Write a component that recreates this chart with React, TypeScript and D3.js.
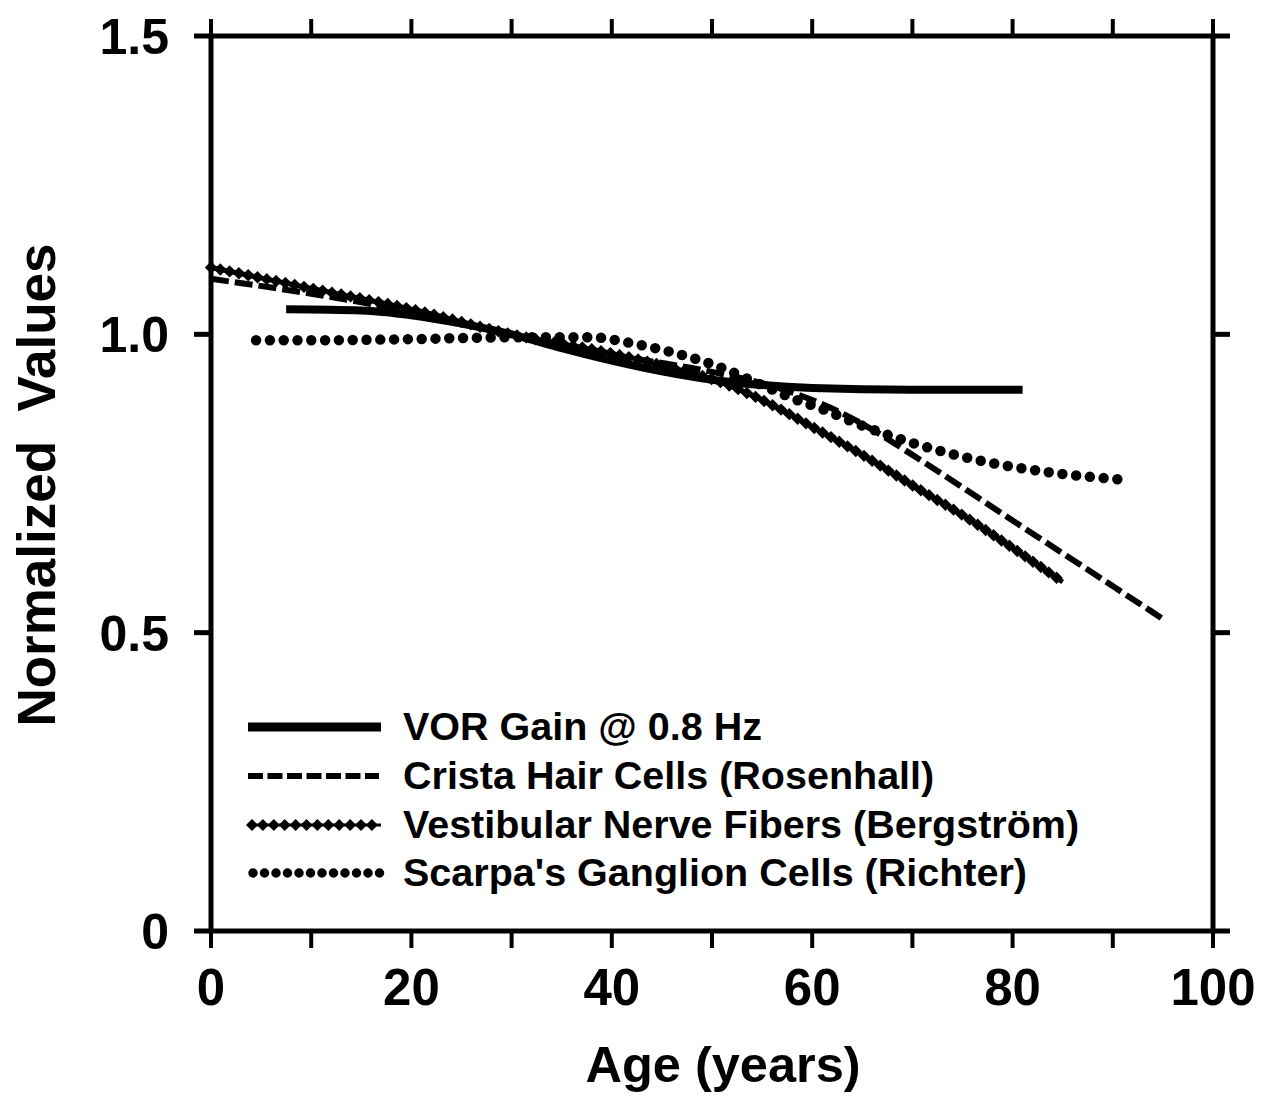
import React, { useEffect, useRef } from "react";
import * as d3 from "d3";

// Age (years) and normalized values for each curve
const vorAges = [7.5, 15, 20, 25, 30, 35, 40, 45, 50, 55, 60, 70, 81];
const vorValues = [1.042, 1.04, 1.032, 1.018, 1.0, 0.977, 0.956, 0.938, 0.924, 0.915, 0.91, 0.907, 0.907];

const cristaAges = [0, 10, 20, 30, 40, 50, 55, 60, 65, 70, 80, 90, 95];
const cristaValues = [1.093, 1.068, 1.038, 1.0, 0.966, 0.937, 0.918, 0.89, 0.85, 0.798, 0.688, 0.578, 0.523];

const nerveAges = [0, 10, 20, 30, 40, 45, 50, 55, 60, 65, 70, 75, 80, 85];
const nerveValues = [1.112, 1.077, 1.042, 1.0, 0.968, 0.948, 0.925, 0.89, 0.845, 0.798, 0.747, 0.697, 0.642, 0.585];

const scarpaAges = [4.5, 10, 20, 30, 38, 42, 46, 50, 55, 58, 61, 65, 70, 75, 80, 85, 90.5];
const scarpaValues = [0.99, 0.99, 0.992, 0.995, 0.995, 0.985, 0.97, 0.95, 0.915, 0.893, 0.875, 0.847, 0.818, 0.795, 0.778, 0.766, 0.757];

const xTicks = [0, 20, 40, 60, 80, 100];
const xMinorTicks = [0, 10, 20, 30, 40, 50, 60, 70, 80, 90, 100];
const yTicks = [0, 0.5, 1.0, 1.5];
const yTickLabels = ["0", "0.5", "1.0", "1.5"];

const legendLabels = [
  "VOR Gain @ 0.8 Hz",
  "Crista Hair Cells (Rosenhall)",
  "Vestibular Nerve Fibers (Bergström)",
  "Scarpa's Ganglion Cells (Richter)",
];

const FONT = "'Liberation Sans', Arial, Helvetica, sans-serif";

export default function App() {
  const ref = useRef<SVGSVGElement | null>(null);

  useEffect(() => {
    const svg = d3.select(ref.current);
    svg.selectAll("*").remove();

    const x = d3.scaleLinear().domain([0, 100]).range([211, 1213]);
    const y = d3.scaleLinear().domain([0, 1.5]).range([931, 36]);

    const g = svg.append("g");

    // frame
    g.append("rect")
      .attr("x", x(0))
      .attr("y", y(1.5))
      .attr("width", x(100) - x(0))
      .attr("height", y(0) - y(1.5))
      .attr("fill", "none")
      .attr("stroke", "#000")
      .attr("stroke-width", 5);

    const tickLen = 17;
    // x ticks (outward, top and bottom)
    xMinorTicks.forEach((t) => {
      g.append("line")
        .attr("x1", x(t)).attr("x2", x(t))
        .attr("y1", y(0)).attr("y2", y(0) + tickLen)
        .attr("stroke", "#000").attr("stroke-width", 4);
      g.append("line")
        .attr("x1", x(t)).attr("x2", x(t))
        .attr("y1", y(1.5)).attr("y2", y(1.5) - tickLen)
        .attr("stroke", "#000").attr("stroke-width", 4);
    });
    // y ticks (outward, left and right)
    yTicks.forEach((t) => {
      g.append("line")
        .attr("x1", x(0) - tickLen).attr("x2", x(0))
        .attr("y1", y(t)).attr("y2", y(t))
        .attr("stroke", "#000").attr("stroke-width", 5);
      g.append("line")
        .attr("x1", x(100)).attr("x2", x(100) + tickLen)
        .attr("y1", y(t)).attr("y2", y(t))
        .attr("stroke", "#000").attr("stroke-width", 5);
    });

    // tick labels
    g.selectAll(".xl")
      .data(xTicks)
      .enter()
      .append("text")
      .attr("x", (d) => x(d))
      .attr("y", 1005)
      .attr("text-anchor", "middle")
      .attr("font-family", FONT)
      .attr("font-weight", "bold")
      .attr("font-size", 51)
      .text((d) => String(d));

    g.selectAll(".yl")
      .data(yTicks)
      .enter()
      .append("text")
      .attr("x", 169)
      .attr("y", (d) => y(d) + 18)
      .attr("text-anchor", "end")
      .attr("font-family", FONT)
      .attr("font-weight", "bold")
      .attr("font-size", 50)
      .text((d, i) => yTickLabels[i]);

    // axis titles
    g.append("text")
      .attr("x", 723)
      .attr("y", 1082)
      .attr("text-anchor", "middle")
      .attr("font-family", FONT)
      .attr("font-weight", "bold")
      .attr("font-size", 50.5)
      .text("Age (years)");

    g.append("text")
      .attr("transform", "translate(55,485) rotate(-90)")
      .attr("text-anchor", "middle")
      .attr("font-family", FONT)
      .attr("font-weight", "bold")
      .attr("font-size", 53)
      .style("white-space", "pre")
      .text("Normalized  Values");

    const line = d3
      .line<[number, number]>()
      .x((d) => x(d[0]))
      .y((d) => y(d[1]))
      .curve(d3.curveMonotoneX);

    const zip = (a: number[], b: number[]) => a.map((v, i) => [v, b[i]] as [number, number]);

    // Scarpa's ganglion cells: round dots
    g.append("path")
      .attr("d", line(zip(scarpaAges, scarpaValues)))
      .attr("fill", "none")
      .attr("stroke", "#000")
      .attr("stroke-width", 10.5)
      .attr("stroke-linecap", "round")
      .attr("stroke-dasharray", "0 13.8");

    // Crista hair cells: dashed
    g.append("path")
      .attr("d", line(zip(cristaAges, cristaValues)))
      .attr("fill", "none")
      .attr("stroke", "#000")
      .attr("stroke-width", 6)
      .attr("stroke-dasharray", "18 6");

    // Vestibular nerve fibers: chain of diamonds
    const drawDiamondChain = (
      pathD: string,
      spacing: number,
      half: number,
      lw: number
    ) => {
      const p = g
        .append("path")
        .attr("d", pathD)
        .attr("fill", "none")
        .attr("stroke", "#000")
        .attr("stroke-width", lw);
      const node = p.node() as SVGPathElement;
      const total = node.getTotalLength();
      const pts: { x: number; y: number }[] = [];
      for (let s = 0; s <= total + 0.01; s += spacing) {
        const pt = node.getPointAtLength(Math.min(s, total));
        pts.push({ x: pt.x, y: pt.y });
      }
      g.append("g")
        .selectAll("path")
        .data(pts)
        .enter()
        .append("path")
        .attr(
          "d",
          (d) =>
            `M${d.x},${d.y - half}L${d.x + half},${d.y}L${d.x},${d.y + half}L${d.x - half},${d.y}Z`
        )
        .attr("fill", "#000");
    };
    drawDiamondChain(line(zip(nerveAges, nerveValues)) as string, 9.5, 6.2, 5);

    // VOR gain: thick solid
    g.append("path")
      .attr("d", line(zip(vorAges, vorValues)))
      .attr("fill", "none")
      .attr("stroke", "#000")
      .attr("stroke-width", 8);

    // legend
    const legY = [727, 776, 825, 873];
    const legX0 = 248;
    const legX1 = 381;
    g.append("line")
      .attr("x1", legX0).attr("x2", legX1)
      .attr("y1", legY[0]).attr("y2", legY[0])
      .attr("stroke", "#000").attr("stroke-width", 9);
    g.append("line")
      .attr("x1", legX0).attr("x2", legX1 - 2)
      .attr("y1", legY[1]).attr("y2", legY[1])
      .attr("stroke", "#000").attr("stroke-width", 6)
      .attr("stroke-dasharray", "15 4.5");
    drawDiamondChain(`M${legX0 + 4},${legY[2]}L${legX1},${legY[2]}`, 10.9, 6, 3);
    g.append("line")
      .attr("x1", legX0 + 5).attr("x2", legX1 + 2)
      .attr("y1", legY[3]).attr("y2", legY[3])
      .attr("stroke", "#000").attr("stroke-width", 9.5)
      .attr("stroke-linecap", "round")
      .attr("stroke-dasharray", "0 11.5");

    g.selectAll(".lt")
      .data(legendLabels)
      .enter()
      .append("text")
      .attr("x", 403)
      .attr("y", (d, i) => legY[i] + 13)
      .attr("font-family", FONT)
      .attr("font-weight", "bold")
      .attr("font-size", 39.5)
      .text((d) => d);
  }, []);

  return (
    <svg
      ref={ref}
      width={1278}
      height={1100}
      style={{ position: "absolute", left: 0, top: 0, background: "#fff" }}
    />
  );
}
